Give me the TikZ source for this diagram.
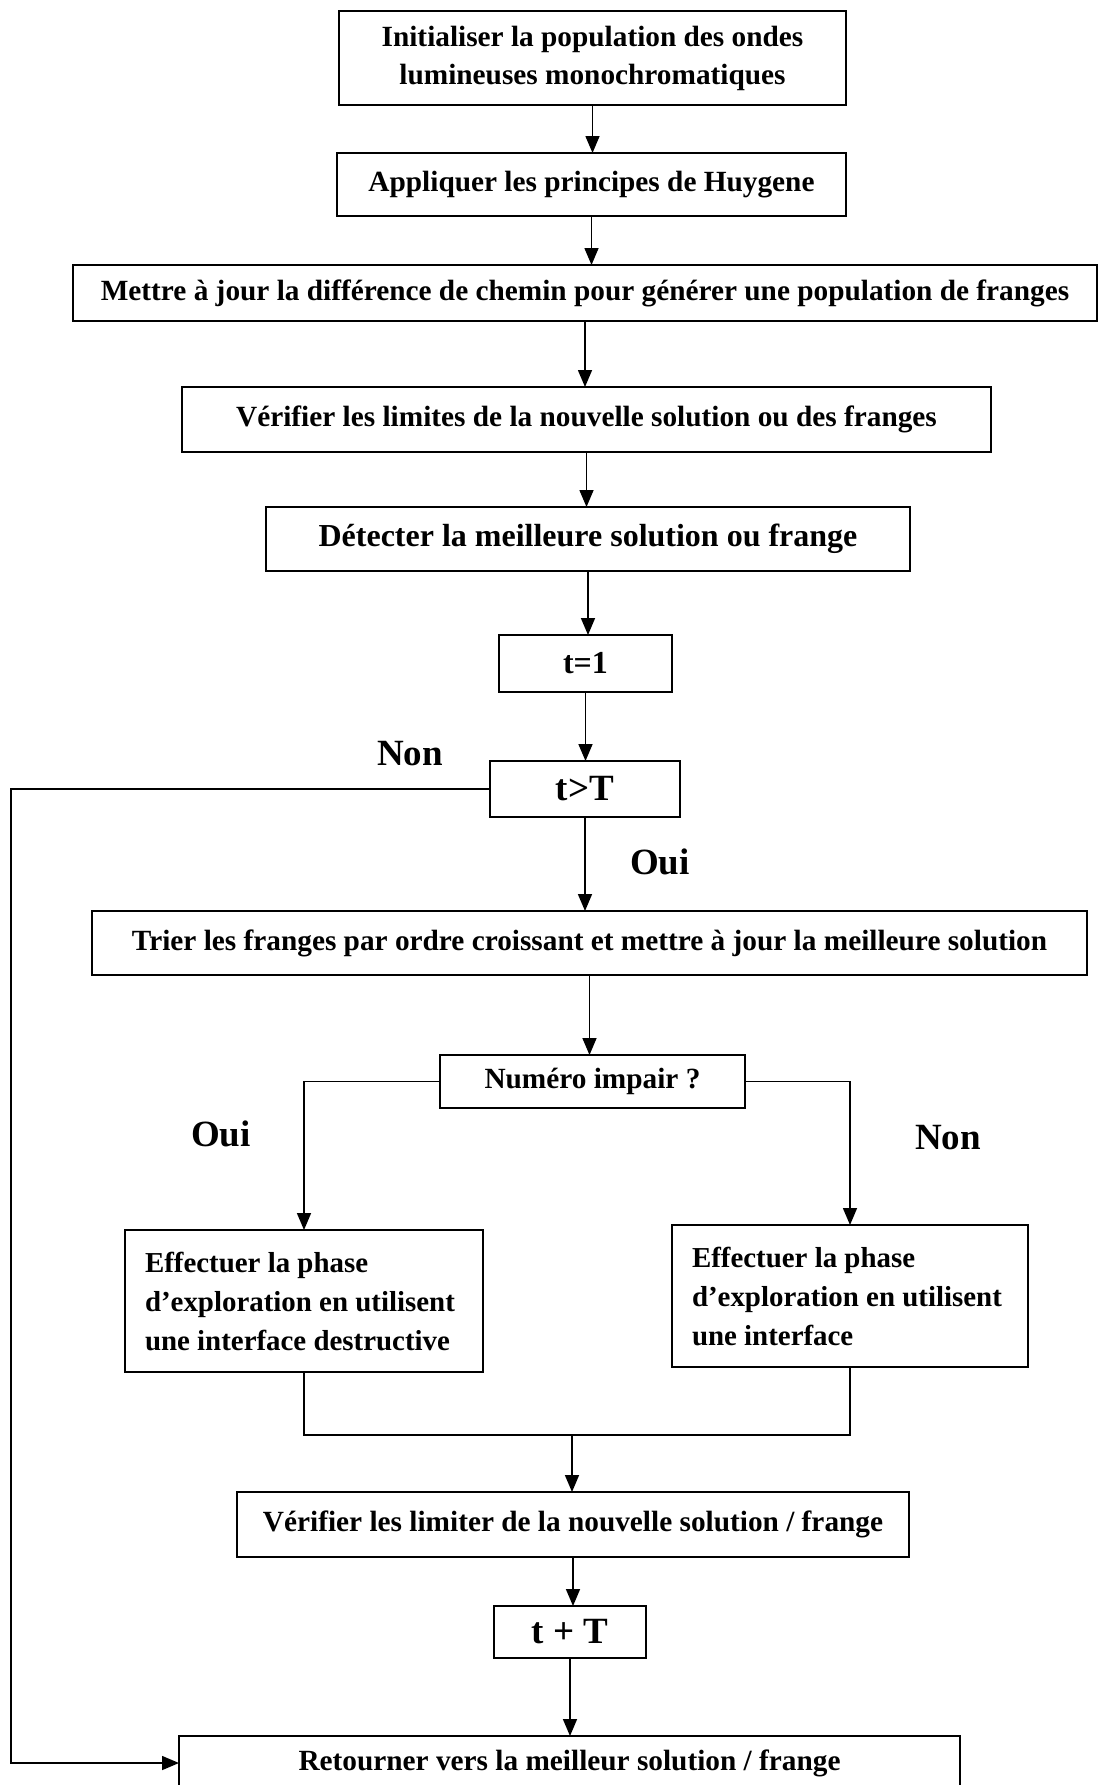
\documentclass[tikz,border=0pt]{standalone}
\usepackage{fontspec}
\setmainfont{Liberation Serif}
\usepackage{tikz}
\usetikzlibrary{arrows.meta,positioning}

\begin{document}
\begin{tikzpicture}[x=1pt,y=-1pt,line width=1.6pt,
  >={Triangle[width=14pt,length=17pt]},
  box/.style={draw,minimum width=#1,align=center,inner sep=3pt,outer sep=0pt,
    font=\fontsize{29.3}{38}\selectfont\bfseries},
  sidebox/.style={draw,text width=#1,minimum height=142pt,align=flush left,inner xsep=20pt,outer sep=0pt,
    font=\fontsize{28.9}{39}\selectfont\bfseries},
  big/.style={font=\fontsize{#1}{#1}\selectfont\bfseries},
  lbl/.style={font=\fontsize{37}{40}\selectfont\bfseries}
]
  \useasboundingbox (0,0) rectangle (1099,1785);
  % main column
  \node[box=507pt,minimum height=94pt] (init) at (592.5,58) {Initialiser la population des ondes\\lumineuses monochromatiques};
  \node[box=509pt,minimum height=63pt,below=48pt of init,xshift=-1pt] (huyg) {Appliquer les principes de Huygene};
  \node[box=1024pt,minimum height=56pt,below=49pt of huyg,xshift=-6.5pt] (chem) {Mettre à jour la différence de chemin pour générer une population de franges};
  \node[box=809pt,minimum height=65pt,below=66pt of chem,xshift=1.5pt] (lim) {Vérifier les limites de la nouvelle solution ou des franges};
  \node[box=644pt,minimum height=64pt,below=55pt of lim,xshift=1.5pt,big=32] (best) {Détecter la meilleure solution ou frange};
  \node[box=173pt,minimum height=57pt,below=64pt of best,xshift=-2.5pt,big=32] (tone) {t=1};
  \node[box=190pt,minimum height=56pt,below=69pt of tone,xshift=-0.5pt,big=37] (tgT) {t>T};
  \node[box=995pt,minimum height=64pt,below=94pt of tgT,xshift=4.5pt] (sort) {Trier les franges par ordre croissant et mettre à jour la meilleure solution};
  \node[box=305pt,minimum height=53pt,below=80pt of sort,xshift=3pt] (odd) {Numéro impair ?};
  % two branches
  \node[sidebox=318pt] (destr) at (304,1301) {Effectuer la phase\\d’exploration en utilisent\\une interface destructive};
  \node[sidebox=316pt] (constr) at (850,1296) {Effectuer la phase\\d’exploration en utilisent\\une interface};
  \node[box=672pt,minimum height=65pt] (check) at (573,1524.5) {Vérifier les limiter de la nouvelle solution / frange};
  \node[box=152pt,minimum height=52pt,below=49pt of check,xshift=-3pt,big=37] (tplus) {t + T};
  \node[box=781pt,minimum height=54pt,below=78pt of tplus,xshift=-0.5pt] (ret) {Retourner vers la meilleur solution / frange};
  % labels
  \node[lbl] (nonA) at (410,754) {Non};
  \node[lbl] (ouiA) at (660,862) {Oui};
  \node[lbl] (ouiB) at (221,1134) {Oui};
  \node[lbl] (nonB) at (948,1138) {Non};
  % arrows
  \foreach \a/\b in {init/huyg,huyg/chem,chem/lim,lim/best,best/tone,tone/tgT,tgT/sort,sort/odd,check/tplus,tplus/ret}
    \draw[->] (\a.south) -- (\a.south |- \b.north);
  \coordinate (back) at (11,0);
  \draw[->] (tgT.west) -- (tgT.west -| back) |- (ret.west);
  \draw[->] (odd.west) -| (destr.north);
  \draw[->] (odd.east) -| (constr.north);
  \coordinate (merge) at (572,1435);
  \draw (destr.south) |- (constr.south |- merge) -- (constr.south);
  \draw[->] (merge) -- (merge |- check.north);
\end{tikzpicture}
\end{document}
